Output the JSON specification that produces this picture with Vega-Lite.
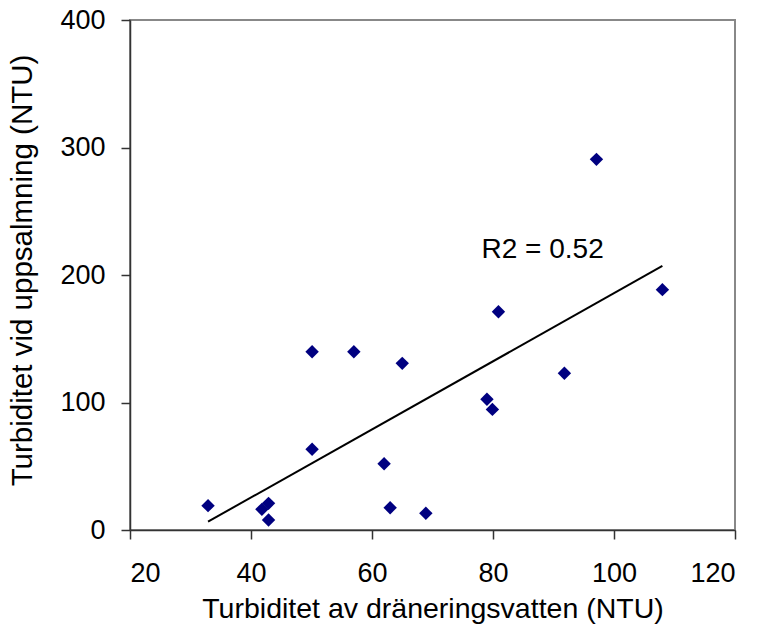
{
  "$schema": "https://vega.github.io/schema/vega-lite/v6.json",
  "width": 605,
  "height": 510,
  "autosize": "none",
  "padding": {"left": 130, "top": 20, "right": 27, "bottom": 100},
  "background": "white",
  "config": {
    "font": "Liberation Sans",
    "view": {"stroke": "#888888", "strokeWidth": 2},
    "axis": {
      "grid": false,
      "domainColor": "#333333",
      "domainWidth": 1.5,
      "tickColor": "#333333",
      "tickWidth": 1.5,
      "tickSize": 9,
      "labelFont": "Liberation Sans",
      "labelFontSize": 27,
      "labelColor": "#000000",
      "titleFont": "Liberation Sans",
      "titleFontSize": 28.5,
      "titleFontWeight": "normal",
      "titleColor": "#000000"
    }
  },
  "data": {
    "values": [
      {"x": 32.9, "y": 19.1},
      {"x": 41.8, "y": 16.2},
      {"x": 42.9, "y": 20.9},
      {"x": 42.9, "y": 7.8},
      {"x": 50.1, "y": 63.3},
      {"x": 50.1, "y": 139.8},
      {"x": 57.0, "y": 139.8},
      {"x": 62.0, "y": 52.0},
      {"x": 63.0, "y": 17.5},
      {"x": 65.0, "y": 130.7},
      {"x": 68.9, "y": 13.1},
      {"x": 79.0, "y": 102.5},
      {"x": 79.9, "y": 94.6},
      {"x": 80.9, "y": 171.2},
      {"x": 91.8, "y": 122.9},
      {"x": 97.1, "y": 290.7},
      {"x": 108.0, "y": 188.5}
    ]
  },
  "layer": [
    {
      "transform": [{"regression": "y", "on": "x"}],
      "mark": {"type": "line", "color": "#000000", "strokeWidth": 2},
      "encoding": {
        "x": {"field": "x", "type": "quantitative"},
        "y": {"field": "y", "type": "quantitative"}
      }
    },
    {
      "mark": {"type": "point", "shape": "diamond", "filled": true, "size": 180, "color": "#000080", "opacity": 1},
      "encoding": {
        "x": {
          "field": "x", "type": "quantitative",
          "scale": {"domain": [20, 120], "nice": false, "zero": false},
          "axis": {"values": [20, 40, 60, 80, 100, 120], "title": "Turbiditet av dräneringsvatten (NTU)", "labelPadding": 21, "titlePadding": 8}
        },
        "y": {
          "field": "y", "type": "quantitative",
          "scale": {"domain": [0, 400], "nice": false},
          "axis": {"values": [0, 100, 200, 300, 400], "title": "Turbiditet vid uppsalmning (NTU)", "labelPadding": 16, "titlePadding": 22, "titleFontSize": 29.5, "titleY": 250}
        }
      }
    },
    {
      "data": {"values": [{"x": 78.1, "y": 213.1, "label": "R2 = 0.52"}]},
      "mark": {"type": "text", "align": "left", "baseline": "alphabetic", "fontSize": 28, "font": "Liberation Sans", "color": "#000000"},
      "encoding": {
        "x": {"field": "x", "type": "quantitative"},
        "y": {"field": "y", "type": "quantitative"},
        "text": {"field": "label"}
      }
    }
  ]
}
